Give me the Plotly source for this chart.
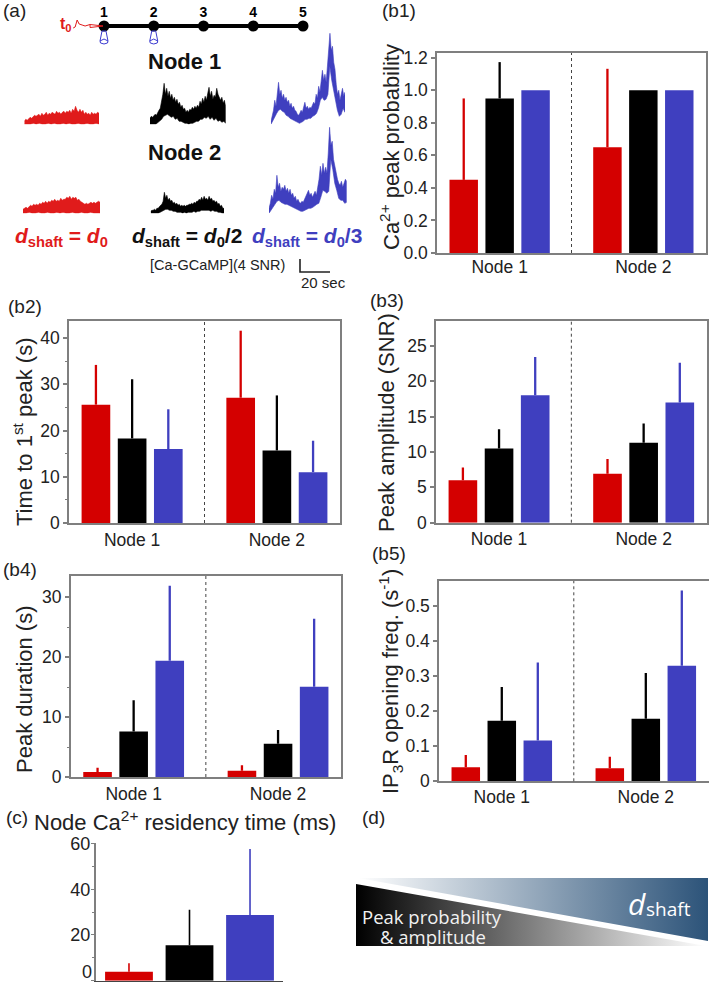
import plotly.graph_objects as go

W, H = 709, 985
FONT = "Liberation Sans"
RED, BLACK, BLUE = "#d40000", "#000000", "#3f3fbf"
GREY = "#7f7f7f"
TXT = "#222222"

nodes = ["Node 1", "Node 2"]
series_colors = [RED, BLACK, BLUE]
series_names = ["d0", "d0/2", "d0/3"]

# (b1) Ca2+ peak probability
b1_vals = [[0.449, 0.65], [0.949, 1.0], [1.0, 1.0]]
b1_errs = [[0.50, 0.481], [0.223, 0.0], [0.0, 0.0]]
b1_ticks = [0, 0.2, 0.4, 0.6, 0.8, 1.0, 1.2]
b1_ticktext = ["0.0", "0.2", "0.4", "0.6", "0.8", "1.0", "1.2"]
# (b2) Time to 1st peak
b2_vals = [[25.6, 27.1], [18.3, 15.7], [16.0, 11.0]]
b2_errs = [[8.6, 14.5], [12.8, 11.9], [8.6, 6.8]]
b2_ticks = [0, 10, 20, 30, 40]
# (b3) Peak amplitude
b3_vals = [[6.0, 6.9], [10.5, 11.3], [18.0, 17.0]]
b3_errs = [[1.8, 2.1], [2.7, 2.7], [5.4, 5.6]]
b3_ticks = [0, 5, 10, 15, 20, 25]
# (b4) Peak duration
b4_vals = [[0.85, 1.05], [7.6, 5.55], [19.4, 15.05]]
b4_errs = [[0.7, 0.9], [5.2, 2.28], [12.5, 11.35]]
b4_ticks = [0, 10, 20, 30]
# (b5) IP3R opening frequency
b5_vals = [[0.04, 0.037], [0.172, 0.178], [0.116, 0.329]]
b5_errs = [[0.035, 0.033], [0.096, 0.13], [0.222, 0.214]]
b5_ticks = [0, 0.1, 0.2, 0.3, 0.4, 0.5]
b5_ticktext = ["0", "0.1", "0.2", "0.3", "0.4", "0.5"]
# (c) Node Ca2+ residency time
c_vals = [3.95, 15.5, 28.7]
c_errs = [3.65, 15.5, 28.9]
c_ticks = [0, 20, 40, 60]
c_ticktext = ["", "20", "40", "60"]

# (a) example traces: upper and lower envelope, in scale-bar units (13 units = 4 SNR)
node_positions = [1, 2, 3, 4, 5]
node_labels = ["1", "2", "3", "4", "5"]
red1_top = [3, 5, 4, 6, 7, 6, 8, 9, 8, 9, 10, 8, 11, 9, 10, 12, 9, 11, 10, 12, 11, 10, 13, 11, 12, 10, 12, 13, 11, 13, 12, 14, 11, 15, 13, 18, 14, 12, 15, 12, 14, 10, 12, 10, 11, 9, 12, 10, 11, 10, 12, 11]
red1_low = [0, 0, 0, 1, 0, 1, 0, 0, 1, 0, 1, 0, 0, 1, 0, 1, 0, 0, 1, 0, 0, 1, 0, 0, 1, 0]
red2_top = [4, 5, 6, 5, 7, 8, 7, 9, 8, 9, 8, 10, 9, 11, 10, 12, 10, 12, 11, 13, 12, 14, 12, 13, 12, 15, 13, 14, 14, 16, 15, 17, 14, 16, 15, 16, 13, 14, 12, 11, 10, 9, 10, 9, 10, 11, 10, 11, 10, 11, 12, 11]
red2_low = [0, 0, 1, 0, 0, 1, 0, 0, 1, 0, 0, 1, 0, 1, 0, 0, 1, 0, 0, 1, 0, 0, 1, 0, 0, 0]
black1_top = [6, 8, 7, 9, 10, 9, 12, 14, 16, 22, 30, 41, 30, 36, 28, 33, 26, 30, 24, 27, 22, 25, 20, 22, 17, 19, 15, 16, 12, 14, 12, 15, 14, 17, 15, 18, 16, 19, 17, 23, 20, 26, 22, 28, 24, 31, 37, 28, 33, 25, 29, 27, 36, 30, 26, 24, 27, 21, 24, 18]
black1_low = [0, 0, 0, 0, 1, 3, 5, 8, 9, 10, 9, 7, 8, 5, 6, 3, 3, 2, 1, 1, 0, 1, 1, 2, 3, 3, 5, 5, 7, 6, 8, 5, 7, 4, 6, 3, 4, 2, 3, 1]
black2_top = [2, 3, 3, 4, 3, 5, 5, 7, 8, 9, 12, 21, 15, 18, 13, 15, 12, 13, 10, 11, 9, 10, 8, 9, 7, 8, 7, 8, 7, 8, 8, 9, 9, 10, 9, 11, 10, 12, 12, 14, 13, 16, 13, 17, 14, 15, 13, 17, 14, 15, 12, 13, 11, 12, 9, 10, 7, 8, 5, 5]
black2_low = [0, 0, 0, 0, 0, 1, 2, 3, 4, 4, 3, 3, 2, 2, 1, 1, 1, 0, 1, 0, 1, 1, 1, 2, 1, 2, 2, 3, 3, 3, 3, 3, 2, 3, 2, 2, 1, 1, 0, 0]
blue1_top = [3, 8, 14, 24, 18, 30, 42, 30, 34, 26, 30, 24, 27, 22, 24, 18, 21, 16, 18, 14, 13, 10, 9, 11, 14, 12, 18, 22, 16, 18, 15, 17, 16, 19, 22, 20, 30, 26, 38, 32, 46, 54, 44, 50, 42, 56, 70, 91, 74, 78, 62, 55, 40, 30, 34, 24, 30, 36, 28, 32]
blue1_low = [0, 3, 7, 11, 14, 15, 13, 12, 9, 8, 6, 5, 4, 3, 2, 1, 2, 3, 5, 5, 6, 6, 8, 9, 11, 16, 24, 27, 24, 25, 30, 58, 44, 32, 24, 14, 8, 10, 16, 12]
blue2_top = [5, 10, 18, 14, 24, 20, 38, 26, 30, 22, 26, 24, 28, 22, 25, 20, 24, 18, 20, 15, 17, 12, 14, 11, 10, 12, 11, 14, 17, 20, 23, 18, 20, 16, 19, 22, 18, 26, 34, 47, 38, 50, 40, 46, 40, 60, 86, 68, 72, 54, 47, 38, 34, 30, 28, 32, 26, 30, 34, 32]
blue2_low = [0, 3, 6, 9, 12, 13, 11, 10, 9, 9, 8, 7, 6, 5, 4, 3, 2, 2, 3, 4, 5, 5, 6, 7, 9, 10, 16, 23, 22, 20, 22, 54, 44, 30, 23, 15, 13, 13, 10, 11]
scale_x = [0, 0, 20]
scale_y = [13, 0, 0]
wiggle_x = [0.38, 0.42, 0.46, 0.50, 0.56, 0.62, 0.72, 0.98, 0.72, 0.72]
wiggle_y = [-2, -1, 6, 2, 1, 0, 1.5, 0, -1.5, 1.5]
pipette_dx = [-0.04, -0.08, -0.07, 0.0, 0.07, 0.08, 0.04, -0.04, None, -0.08, 0.0, 0.08]
pipette_dy = [-5, -15, -17, -18, -17, -15, -5, -5, None, -15, -13, -15]

# (d) wedges
wedge_top_x = [0.006, 1, 1, 0.006]
wedge_top_y = [1, 1, 0.074, 1]
wedge_low_x = [0, 0, 0.994, 0]
wedge_low_y = [0.912, 0, 0, 0.912]

fig = go.Figure()
layout = {}
annotations = []
shapes = []
axis_count = 0


def new_axes(x0, x1, ytop, ybot, xkw, ykw):
    global axis_count
    axis_count += 1
    n = axis_count
    s = "" if n == 1 else str(n)
    xkw = dict(xkw, domain=[x0 / W, x1 / W], anchor="y" + s, automargin=False)
    ykw = dict(ykw, domain=[1 - ybot / H, 1 - ytop / H], anchor="x" + s, automargin=False)
    layout["xaxis" + s] = xkw
    layout["yaxis" + s] = ykw
    return "x" + s, "y" + s


HIDDEN = dict(visible=False, fixedrange=True)


def ann(text, x, y, size, color=TXT, xanchor="center", angle=0, family=FONT):
    annotations.append(dict(text=text, x=x / W, y=1 - y / H, xref="paper", yref="paper",
                            showarrow=False, xanchor=xanchor, yanchor="middle", textangle=angle,
                            font=dict(family=family, size=size, color=color)))


def bar_panel(x0, x1, ytop, ybot, ymax, vals, errs, ticks, ticktext=None, minor=None, xstandoff=0):
    yk = dict(range=[0, ymax], tickvals=ticks, ticks="outside", ticklen=4, tickcolor=GREY, tickwidth=1.5,
              showline=True, mirror=True, linecolor=GREY, linewidth=1.5, showgrid=False, zeroline=False,
              tickfont=dict(family=FONT, size=17.5, color=TXT))
    if ticktext:
        yk["ticktext"] = ticktext
    if minor:
        yk["minor"] = dict(tickvals=minor, ticks="outside", ticklen=2, tickcolor=GREY, tickwidth=1)
    xk = dict(type="category", categoryorder="array", categoryarray=nodes, range=[-0.436, 1.436],
              showline=True, mirror=True, linecolor=GREY, linewidth=1.5, showgrid=False, ticks="",
              ticklen=0, ticklabelstandoff=xstandoff, tickfont=dict(family=FONT, size=17.5, color=TXT))
    xa, ya = new_axes(x0, x1, ytop, ybot, xk, yk)
    for name, color, v, e in zip(series_names, series_colors, vals, errs):
        fig.add_trace(go.Bar(x=nodes, y=v, name=name, xaxis=xa, yaxis=ya, marker=dict(color=color, line_width=0),
                             error_y=dict(type="data", symmetric=False, array=e, arrayminus=[0, 0], width=0,
                                          thickness=2.3, color=color)))
    shapes.append(dict(type="line", xref=xa, yref=ya + " domain", x0=0.5, x1=0.5, y0=0, y1=1,
                       line=dict(color="#444444", width=1, dash="dot")))


bar_panel(437, 706, 53, 253, 1.228, b1_vals, b1_errs, b1_ticks, b1_ticktext, xstandoff=-3)
bar_panel(69, 340, 321, 523, 43.7, b2_vals, b2_errs, b2_ticks, minor=[5, 15, 25, 35])
bar_panel(436, 706.7, 321, 522.7, 28.5, b3_vals, b3_errs, b3_ticks)
bar_panel(70.7, 341, 575.7, 777, 33.56, b4_vals, b4_errs, b4_ticks, minor=[5, 15, 25])
bar_panel(439, 708.6, 581, 781.3, 0.570, b5_vals, b5_errs, b5_ticks, b5_ticktext, xstandoff=-1)

# (c)
xa, ya = new_axes(96, 283, 843, 980.7,
                  dict(type="category", categoryorder="array", categoryarray=series_names, range=[-0.545, 2.545],
                       showticklabels=False, ticks="", showline=True, linecolor="#444444", linewidth=1, showgrid=False),
                  dict(range=[0, 60.2], tickvals=c_ticks, ticktext=c_ticktext, ticks="outside", ticklen=3,
                       tickcolor=GREY, tickwidth=1, ticklabelstandoff=-3,
                       showline=True, linecolor=GREY, linewidth=2, showgrid=False, zeroline=False,
                       minor=dict(tickvals=[10, 30, 50], ticks="outside", ticklen=2, tickcolor=GREY, tickwidth=1),
                       tickfont=dict(family=FONT, size=18, color=TXT)))
for name, color, v, e in zip(series_names, series_colors, c_vals, c_errs):
    fig.add_trace(go.Bar(x=[name], y=[v], width=0.79, offset=-0.395, xaxis=xa, yaxis=ya,
                         marker=dict(color=color, line_width=0),
                         error_y=dict(type="data", symmetric=False, array=[e], arrayminus=[0], width=0,
                                      thickness=1.6, color=color)))
ann("0", 87, 972, 18)


# (a) traces
def trace_panel(x0, x1, base, top, low, color):
    duration = (x1 - x0) / 1.5
    t_top = [i * duration / (len(top) - 1) for i in range(len(top))]
    t_low = [i * duration / (len(low) - 1) for i in range(len(low))]
    xa, ya = new_axes(x0, x1, base - 100, base, dict(HIDDEN, range=[0, duration]), dict(HIDDEN, range=[0, 100]))
    fig.add_trace(go.Scatter(x=t_top + t_low[::-1], y=top + low[::-1], xaxis=xa, yaxis=ya, mode="lines", fill="toself",
                             fillcolor=color, line=dict(color=color, width=0.6), hoverinfo="skip"))


TR_RED = "#e01b1b"
trace_panel(24.3, 99, 124.3, red1_top, red1_low, TR_RED)
trace_panel(23, 100, 213.3, red2_top, red2_low, TR_RED)
trace_panel(150, 225.7, 124.3, black1_top, black1_low, BLACK)
trace_panel(150.7, 224, 213.3, black2_top, black2_low, BLACK)
trace_panel(271, 345, 124.3, blue1_top, blue1_low, BLUE)
trace_panel(269, 346.7, 213.3, blue2_top, blue2_low, BLUE)

# (a) node line
px_per_node = 49.75
xa, ya = new_axes(60, 320, 0, 50,
                  dict(HIDDEN, range=[1 + (60 - 104) / px_per_node, 1 + (320 - 104) / px_per_node]),
                  dict(HIDDEN, range=[-24, 26]))
fig.add_trace(go.Scatter(x=node_positions, y=[0] * 5, xaxis=xa, yaxis=ya, mode="lines+markers",
                         line=dict(color="black", width=4), marker=dict(color="black", size=11)))
fig.add_trace(go.Scatter(x=node_positions, y=[13] * 5, xaxis=xa, yaxis=ya, mode="text",
                         text=["<b>%s</b>" % s for s in node_labels],
                         textfont=dict(family=FONT, size=14, color="black")))
fig.add_trace(go.Scatter(x=wiggle_x, y=wiggle_y, xaxis=xa, yaxis=ya, mode="lines",
                         line=dict(color="#e01b1b", width=1)))
for node in node_positions[:2]:
    fig.add_trace(go.Scatter(x=[None if d is None else node + d for d in pipette_dx], y=pipette_dy,
                             xaxis=xa, yaxis=ya, mode="lines", line=dict(color="#3c3cd0", width=1)))

# (a) scale bar
xa, ya = new_axes(290, 340, 250, 280, dict(HIDDEN, range=[-6.67, 26.67]), dict(HIDDEN, range=[-8, 22]))
fig.add_trace(go.Scatter(x=scale_x, y=scale_y, xaxis=xa, yaxis=ya, mode="lines",
                         line=dict(color="#222222", width=1.6)))

# (d) wedges
xa, ya = new_axes(356, 708, 878, 946, dict(HIDDEN, range=[0, 1]), dict(HIDDEN, range=[0, 1]))
fig.add_trace(go.Scatter(x=wedge_top_x, y=wedge_top_y, xaxis=xa, yaxis=ya, mode="lines", fill="toself",
                         line=dict(width=0),
                         fillgradient=dict(type="horizontal", colorscale=[[0, "#ffffff"], [1, "#2c5379"]])))
fig.add_trace(go.Scatter(x=wedge_low_x, y=wedge_low_y, xaxis=xa, yaxis=ya, mode="lines", fill="toself",
                         line=dict(width=0),
                         fillgradient=dict(type="horizontal", colorscale=[[0, "#000000"], [1, "#ffffff"]])))

# Panel letters
for label, x, y in [("(a)", 1, 10), ("(b1)", 380, 10), ("(b2)", 6, 306), ("(b3)", 368, 300),
                    ("(b4)", 1, 569), ("(b5)", 370, 553), ("(c)", 4, 817), ("(d)", 360, 817)]:
    ann(label, x, y, 19, xanchor="left")

# Axis titles
ann("Ca<sup>2+</sup> peak probability", 390, 147, 22, angle=-90)
ann("Time to 1<sup>st</sup> peak (s)", 23, 432, 22, angle=-90)
ann("Peak amplitude (SNR)", 387, 423, 22, angle=-90)
ann("Peak duration (s)", 24, 689, 22, angle=-90)
ann("IP<sub>3</sub>R opening freq. (s<sup>-1</sup>)", 390, 682, 22, angle=-90)
ann("Node Ca<sup>2+</sup> residency time (ms)", 185, 821, 22)

# Panel (a) text
ann("<b>Node 1</b>", 184, 62, 22, "#111111")
ann("<b>Node 2</b>", 184, 152, 22, "#111111")
ann("<b>t<sub>0</sub></b>", 66, 25, 16, "#e01b1b")
ann("<b><i>d</i><sub>shaft</sub> = <i>d</i><sub>0</sub></b>", 61, 237, 21, "#e01b1b")
ann("<b><i>d</i><sub>shaft</sub> = <i>d</i><sub>0</sub>/2</b>", 187, 237, 21, "#111111")
ann("<b><i>d</i><sub>shaft</sub> = <i>d</i><sub>0</sub>/3</b>", 307, 237, 21, BLUE)
ann("[Ca-GCaMP](4 SNR)", 217, 265, 14.5)
ann("20 sec", 323, 282, 15)

# Panel (d) text
ann("Peak probability", 360, 916, 18.5, "#f2f2f2", xanchor="left", family="Open Sans")
ann("&amp; amplitude", 378, 936, 18.5, "#f2f2f2", xanchor="left", family="Open Sans")
ann("<i>d</i>", 637, 903, 30, "#ffffff", family="Open Sans")
ann("shaft", 668, 909, 19, "#ffffff", family="Open Sans")

fig.update_layout(
    width=W, height=H, autosize=False, margin=dict(l=0, r=0, t=0, b=0), showlegend=False,
    paper_bgcolor="white", plot_bgcolor="rgba(0,0,0,0)", barmode="group", bargap=0.25, bargroupgap=0.208,
    annotations=annotations, shapes=shapes, **layout)

fig.write_html("out.html", config={"displayModeBar": False}, post_script="document.body.style.margin='0';")
